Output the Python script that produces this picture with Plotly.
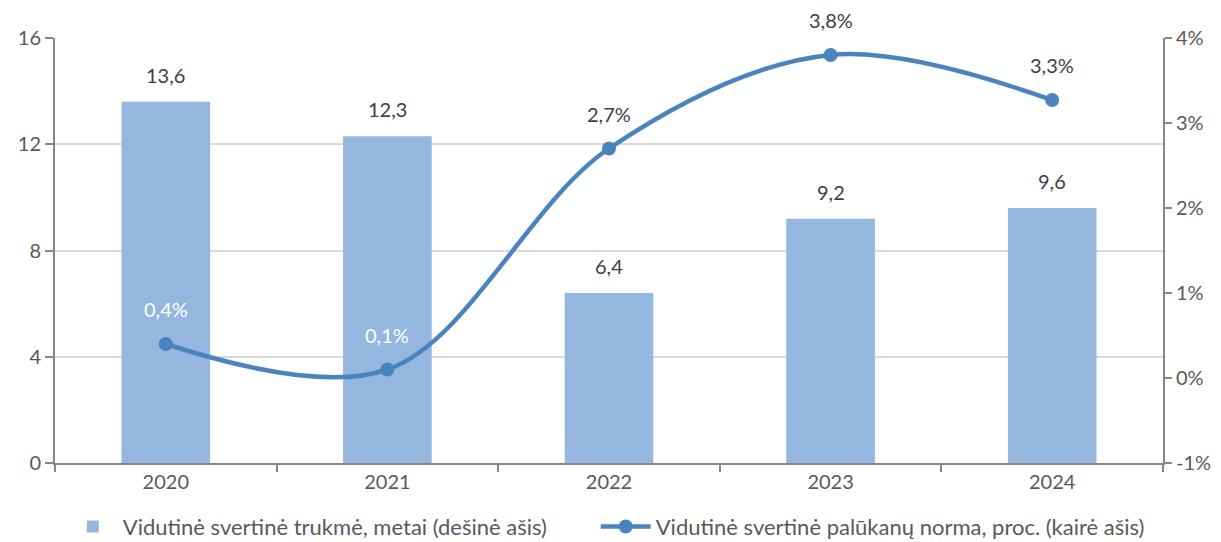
import plotly.graph_objects as go

years = ["2020", "2021", "2022", "2023", "2024"]
duration = [13.6, 12.3, 6.4, 9.2, 9.6]
rate = [0.4, 0.1, 2.7, 3.8, 3.27]
rate_labels = ["0,4%", "0,1%", "2,7%", "3,8%", "3,3%"]
rate_label_colors = ["white", "white", "#404040", "#404040", "#404040"]
left_ticks = [0, 4, 8, 12, 16]
right_ticks = [-1, 0, 1, 2, 3, 4]
right_ticktext = ["-1%", "0%", "1%", "2%", "3%", "4%"]

bar_name = "Vidutinė svertinė trukmė, metai (dešinė ašis)"
line_name = "Vidutinė svertinė palūkanų norma, proc. (kairė ašis)"

FONT = "Lato, 'Open Sans', sans-serif"
AX = "#868686"
TXT = "#595959"
FS = 20

fig = go.Figure()
fig.add_trace(go.Bar(
    x=years, y=duration, name=bar_name, showlegend=True,
    marker=dict(color="#95B7DF", line=dict(width=0)),
    width=0.4, yaxis="y", legend="legend3",
))
fig.add_trace(go.Scatter(
    x=years, y=rate, name=line_name, yaxis="y2", legend="legend2", showlegend=True,
    mode="lines+markers",
    line=dict(color="#4A84BE", width=4.5, shape="spline", smoothing=1.0),
    marker=dict(color="#4A84BE", size=14),
))

annotations = []
for i, v in enumerate(duration):
    annotations.append(dict(
        x=i, y=v, xref="x", yref="y", text=f"{v:.1f}".replace(".", ","),
        showarrow=False, yshift=27, font=dict(size=FS, color="#404040", family=FONT)))
for i, (v, t, c) in enumerate(zip(rate, rate_labels, rate_label_colors)):
    annotations.append(dict(
        x=i, y=v, xref="x", yref="y2", text=t,
        showarrow=False, yshift=35, font=dict(size=FS, color=c, family=FONT)))

legend_style = dict(
    orientation="h", yanchor="middle", y=-0.15, xanchor="left",
    font=dict(size=22, color=TXT, family=FONT), itemwidth=50,
    bgcolor="rgba(0,0,0,0)", visible=True,
)

fig.update_layout(
    width=1213, height=534,
    showlegend=True,
    margin=dict(l=47, r=58, t=30, b=79, autoexpand=False),
    plot_bgcolor="white", paper_bgcolor="white",
    font=dict(family=FONT, size=FS, color=TXT),
    annotations=annotations,
    xaxis=dict(
        type="category", range=[-0.5, 4.5], showline=True, linecolor=AX, linewidth=2,
        ticks="outside", tickson="boundaries", ticklen=7, tickcolor=AX, tickwidth=2,
        showgrid=False, tickfont=dict(size=FS, color=TXT), fixedrange=True,
    ),
    yaxis=dict(
        range=[0, 16], tickvals=left_ticks, showline=True, linecolor=AX, linewidth=2,
        ticks="outside", ticklen=8, tickcolor=AX, tickwidth=2,
        showgrid=True, gridcolor="#D9D9D9", gridwidth=1.5, zeroline=False,
        tickfont=dict(size=FS, color=TXT),
    ),
    yaxis2=dict(
        range=[-1, 4], tickvals=right_ticks, ticktext=right_ticktext,
        overlaying="y", side="right", showline=True, linecolor=AX, linewidth=2,
        ticks="outside", ticklen=7, tickcolor=AX, tickwidth=2,
        showgrid=False, zeroline=False, tickfont=dict(size=FS, color=TXT),
    ),
    legend3=dict(x=0.007, **legend_style),
    legend2=dict(x=0.488, **legend_style),
)

fig.write_html("out.html")
